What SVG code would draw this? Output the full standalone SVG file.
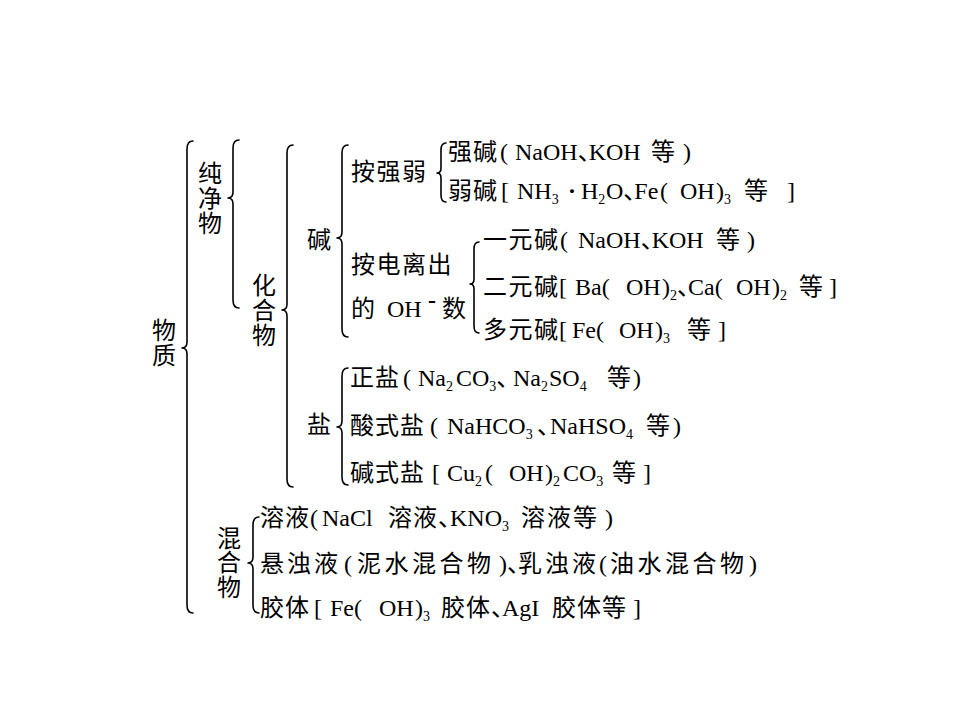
<svg xmlns="http://www.w3.org/2000/svg" width="960" height="720" viewBox="0 0 960 720">
<style>
.t{font-family:"Liberation Serif","Noto Sans CJK SC",serif;font-size:24px;fill:#000}
.v{text-anchor:middle}
.sub{font-size:14px}
.dun{letter-spacing:-13px}
.brace{fill:none;stroke:#000;stroke-width:1.6;stroke-linecap:round;stroke-linejoin:round}
</style>
<rect width="960" height="720" fill="#fff"/>
<g id="connectors">
<path class="brace" d="M193 141 Q187 141 187 149 L187 342 Q187 348 182 348 Q187 348 187 354 L187 605 Q187 613 193 613"/>
<path class="brace" d="M239 140 Q233 140 233 148 L233 192 Q233 198 228 198 Q233 198 233 204 L233 300 Q233 308 239 308"/>
<path class="brace" d="M293 145 Q287 145 287 153 L287 304 Q287 310 282 310 Q287 310 287 316 L287 479 Q287 487 293 487"/>
<path class="brace" d="M348 145 Q342 145 342 153 L342 232 Q342 238 337 238 Q342 238 342 244 L342 329 Q342 337 348 337"/>
<path class="brace" d="M446 143 Q441 143 441 150 L441 168 Q441 173 437 173 Q441 173 441 178 L441 195 Q441 202 446 202"/>
<path class="brace" d="M479 242 Q474 242 474 249 L474 279 Q474 284 470 284 Q474 284 474 289 L474 326 Q474 333 479 333"/>
<path class="brace" d="M348 368 Q342 368 342 376 L342 421 Q342 427 337 427 Q342 427 342 433 L342 477 Q342 485 348 485"/>
<path class="brace" d="M259 517 Q253 517 253 525 L253 557 Q253 563 248 563 Q253 563 253 569 L253 605 Q253 613 259 613"/>
</g>
<g id="n-wuzhi"><text class="t v" x="164" y="339">物</text><text class="t v" x="164" y="364">质</text></g>
<g id="n-chunjingwu"><text class="t v" x="210" y="182">纯</text><text class="t v" x="210" y="207">净</text><text class="t v" x="210" y="232">物</text></g>
<g id="n-huahewu"><text class="t v" x="264" y="294">化</text><text class="t v" x="264" y="319">合</text><text class="t v" x="264" y="344">物</text></g>
<g id="n-jian"><text class="t" x="307" y="248">碱</text></g>
<g id="n-anqiangruo"><text class="t" x="351" y="180" letter-spacing="1.5">按强弱</text></g>
<g id="n-qiangjian"><text class="t" y="160"><tspan x="448" letter-spacing="1">强碱</tspan><tspan x="500">(</tspan><tspan x="515">NaOH</tspan><tspan class="dun">、</tspan><tspan>KOH</tspan><tspan x="651">等</tspan><tspan x="683">)</tspan></text></g>
<g id="n-ruojian"><text class="t" y="199"><tspan x="448" letter-spacing="1">弱碱</tspan><tspan x="501">[</tspan><tspan x="517">NH</tspan><tspan class="sub" y="204">3</tspan><tspan x="568" y="199" font-weight="bold">·</tspan><tspan x="581">H</tspan><tspan class="sub" y="204">2</tspan><tspan x="606" y="199">O</tspan><tspan class="dun">、</tspan><tspan>Fe</tspan><tspan x="660">(</tspan><tspan x="680">OH</tspan><tspan x="716">)</tspan><tspan class="sub" y="204">3</tspan><tspan x="744" y="199">等</tspan><tspan x="787">]</tspan></text></g>
<g id="n-andianli"><text class="t" x="351" y="273" letter-spacing="1.5">按电离出</text><text class="t" y="317"><tspan x="351">的</tspan><tspan x="387">OH</tspan><tspan x="428" y="308" font-weight="bold">-</tspan><tspan x="442" y="317">数</tspan></text></g>
<g id="n-yiyuan"><text class="t" y="248"><tspan x="483" letter-spacing="1.5">一元碱</tspan><tspan x="560">(</tspan><tspan x="578">NaOH</tspan><tspan class="dun">、</tspan><tspan>KOH</tspan><tspan x="716">等</tspan><tspan x="747">)</tspan></text></g>
<g id="n-eryuan"><text class="t" y="295"><tspan x="483" letter-spacing="1.5">二元碱</tspan><tspan x="559">[</tspan><tspan x="575">Ba</tspan><tspan>(</tspan><tspan x="626">OH</tspan><tspan x="662">)</tspan><tspan class="sub" y="300">2</tspan><tspan class="dun" y="295">、</tspan><tspan>Ca</tspan><tspan>(</tspan><tspan x="736">OH</tspan><tspan x="772">)</tspan><tspan class="sub" y="300">2</tspan><tspan x="799" y="295">等</tspan><tspan x="829">]</tspan></text></g>
<g id="n-duoyuan"><text class="t" y="338"><tspan x="483" letter-spacing="1.5">多元碱</tspan><tspan x="559">[</tspan><tspan x="572">Fe</tspan><tspan>(</tspan><tspan x="619">OH</tspan><tspan x="655">)</tspan><tspan class="sub" y="343">3</tspan><tspan x="687" y="338">等</tspan><tspan x="718">]</tspan></text></g>
<g id="n-yan"><text class="t" x="307" y="433">盐</text></g>
<g id="n-zhengyan"><text class="t" y="386"><tspan x="350" letter-spacing="1">正盐</tspan><tspan x="403">(</tspan><tspan x="418">Na</tspan><tspan class="sub" y="391">2</tspan><tspan x="456" y="386">CO</tspan><tspan class="sub" y="391">3</tspan><tspan class="dun" y="386">、</tspan><tspan x="513">Na</tspan><tspan class="sub" y="391">2</tspan><tspan x="549" y="386">SO</tspan><tspan class="sub" y="391">4</tspan><tspan x="607" y="386">等</tspan><tspan x="633">)</tspan></text></g>
<g id="n-suanshiyan"><text class="t" y="434"><tspan x="350" letter-spacing="1">酸式盐</tspan><tspan x="430">(</tspan><tspan x="447">NaHCO</tspan><tspan class="sub" y="439">3</tspan><tspan class="dun" x="537" y="434">、</tspan><tspan x="550">NaHSO</tspan><tspan class="sub" y="439">4</tspan><tspan x="646" y="434">等</tspan><tspan x="673">)</tspan></text></g>
<g id="n-jianshiyan"><text class="t" y="481"><tspan x="350" letter-spacing="1">碱式盐</tspan><tspan x="432">[</tspan><tspan x="447">Cu</tspan><tspan class="sub" y="486">2</tspan><tspan x="485" y="481">(</tspan><tspan x="509">OH</tspan><tspan x="545">)</tspan><tspan class="sub" y="486">2</tspan><tspan x="563" y="481">CO</tspan><tspan class="sub" y="486">3</tspan><tspan x="612" y="481">等</tspan><tspan x="643">]</tspan></text></g>
<g id="n-hunhewu"><text class="t v" x="229" y="547">混</text><text class="t v" x="229" y="571">合</text><text class="t v" x="229" y="596">物</text></g>
<g id="n-rongye"><text class="t" y="526"><tspan x="260" letter-spacing="1">溶液</tspan><tspan x="310">(</tspan><tspan x="322">NaCl</tspan><tspan x="388" letter-spacing="1">溶液</tspan><tspan class="dun">、</tspan><tspan x="450">KNO</tspan><tspan class="sub" y="531">3</tspan><tspan x="521" y="526" letter-spacing="2">溶液等</tspan><tspan x="605">)</tspan></text></g>
<g id="n-xuanzhuoye"><text class="t" y="572"><tspan x="260" letter-spacing="3">悬浊液</tspan><tspan x="344">(</tspan><tspan x="357" letter-spacing="3.5">泥水混合物</tspan><tspan x="499">)</tspan><tspan class="dun">、</tspan><tspan x="518" letter-spacing="3">乳浊液</tspan><tspan x="599">(</tspan><tspan x="610" letter-spacing="3.5">油水混合物</tspan><tspan x="749">)</tspan></text></g>
<g id="n-jiaoti"><text class="t" y="616"><tspan x="260" letter-spacing="1">胶体</tspan><tspan x="314">[</tspan><tspan x="330">Fe</tspan><tspan>(</tspan><tspan x="379">OH</tspan><tspan x="415">)</tspan><tspan class="sub" y="621">3</tspan><tspan x="441" y="616" letter-spacing="1">胶体</tspan><tspan class="dun">、</tspan><tspan x="502">AgI</tspan><tspan x="552" letter-spacing="1">胶体等</tspan><tspan x="633">]</tspan></text></g>
</svg>
